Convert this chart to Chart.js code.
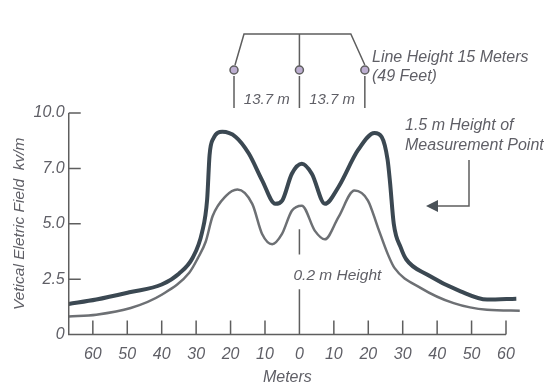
<!DOCTYPE html>
<html>
<head>
<meta charset="utf-8">
<script src="https://cdn.jsdelivr.net/npm/chart.js@4/dist/chart.umd.min.js"></script>
<style>
  html, body { margin: 0; padding: 0; background: #fff; }
</style>
</head>
<body>
<canvas id="field-chart" width="544" height="387"></canvas>
<script>
// distance from centre phase (m) -> vertical electric field (kV/m)
var highX = [-67, -59, -49, -40, -35, -31, -28.3, -26.8, -26.1, -25, -22.4, -18.5, -14.7, -10.8, -7, -5, -2.2, 0.7, 3.6, 7.4, 11.3, 17, 21.8, 23.9, 25.6, 26.3, 27.4, 29.5, 31, 37.2, 46.8, 54.5, 63];
var highY = [1.38, 1.58, 1.92, 2.26, 2.75, 3.47, 4.6, 6.1, 8.1, 8.85, 9.15, 8.92, 8.17, 6.95, 5.9, 6.05, 7.26, 7.71, 7.26, 5.9, 6.65, 8.32, 9.1, 8.92, 7.9, 6.9, 5.0, 3.9, 3.4, 2.7, 1.95, 1.58, 1.62];
var lowX = [-67, -59, -49, -40, -32, -29.5, -27.2, -25.2, -21.4, -18, -13.7, -10.8, -7.9, -5.1, -2.2, 0.7, 4.5, 7.4, 11.3, 16, 19.9, 22.8, 25.7, 27.6, 35.3, 44.8, 54.5, 64];
var lowY = [0.82, 0.9, 1.2, 1.8, 2.79, 3.45, 4.2, 5.35, 6.25, 6.55, 5.9, 4.53, 4.08, 4.53, 5.59, 5.82, 4.68, 4.3, 5.29, 6.5, 6.05, 4.83, 3.62, 3.01, 2.1, 1.42, 1.12, 1.08];
var xTicks = [-60, -50, -40, -30, -20, -10, 0, 10, 20, 30, 40, 50, 60];
var xTickLabels = ['60', '50', '40', '30', '20', '10', '0', '10', '20', '30', '40', '50', '60'];
var yTicks = [0, 2.5, 5, 7.5, 10];
var yTickLabels = ['0', '2.5', '5.0', '7.0', '10.0'];
var conductorX = [-19, 0, 19];

var textColor = '#5f5f66';
var lineColor = '#5e5e5e';
var fontName = "'Liberation Sans', Arial, sans-serif";

function toPoints(xs, ys) {
  var pts = [];
  for (var i = 0; i < xs.length; i++) pts.push({ x: xs[i], y: ys[i] });
  return pts;
}

var markings = {
  id: 'markings',
  afterDraw: function(chart) {
    var ctx = chart.ctx, sx = chart.scales.x, sy = chart.scales.y, area = chart.chartArea;
    ctx.save();
    ctx.strokeStyle = lineColor;
    ctx.lineWidth = 1.5;
    ctx.beginPath();
    // axis lines
    ctx.moveTo(area.left, area.top);
    ctx.lineTo(area.left, area.bottom);
    ctx.lineTo(area.right, area.bottom);
    // tick marks point inward
    xTicks.forEach(function(v) {
      if (v === 0) return;
      var px = sx.getPixelForValue(v);
      ctx.moveTo(px, area.bottom);
      ctx.lineTo(px, area.bottom - 14);
    });
    yTicks.forEach(function(v) {
      if (v === 0) return;
      var py = sy.getPixelForValue(v);
      ctx.moveTo(area.left, py);
      ctx.lineTo(area.left + 12, py);
    });
    // centre line, broken by label
    var cx = sx.getPixelForValue(0);
    ctx.moveTo(cx, area.bottom);
    ctx.lineTo(cx, sy.getPixelForValue(2.05));
    ctx.moveTo(cx, sy.getPixelForValue(3.62));
    ctx.lineTo(cx, sy.getPixelForValue(4.75));
    ctx.stroke();

    ctx.fillStyle = textColor;
    ctx.font = 'italic 15.5px ' + fontName;
    ctx.textBaseline = 'middle';
    ctx.textAlign = 'center';
    ctx.fillText('0.2 m Height', cx + 38, sy.getPixelForValue(2.64));

    // tower / conductors sketch
    var c0 = sx.getPixelForValue(conductorX[0]);
    var c1 = sx.getPixelForValue(conductorX[1]);
    var c2 = sx.getPixelForValue(conductorX[2]);
    var barY = 34, condY = 70;
    ctx.beginPath();
    ctx.moveTo(c0 + 1, condY - 5);
    ctx.lineTo(c0 + 10, barY);
    ctx.lineTo(c2 - 14, barY);
    ctx.lineTo(c2, condY - 5);
    ctx.moveTo(c1, barY);
    ctx.lineTo(c1, condY - 4);
    [c0, c1, c2].forEach(function(c) {
      ctx.moveTo(c, condY + 6);
      ctx.lineTo(c, condY + 38);
    });
    ctx.stroke();
    [c0, c1, c2].forEach(function(c) {
      ctx.beginPath();
      ctx.arc(c, condY, 4, 0, Math.PI * 2);
      ctx.fillStyle = '#bcaed0';
      ctx.fill();
      ctx.stroke();
    });
    ctx.fillStyle = textColor;
    ctx.font = 'italic 15px ' + fontName;
    ctx.fillText('13.7 m', (c0 + c1) / 2, 100);
    ctx.fillText('13.7 m', (c1 + c2) / 2, 100);
    ctx.textAlign = 'left';
    ctx.font = 'italic 16px ' + fontName;
    ctx.fillText('Line Height 15 Meters', 372, 58);
    ctx.fillText('(49 Feet)', 372, 77);
    ctx.fillText('1.5 m Height of', 405, 126);
    ctx.fillText('Measurement Point', 405, 146);

    // arrow to the upper curve
    ctx.beginPath();
    ctx.moveTo(469, 160);
    ctx.lineTo(469, 206);
    ctx.lineTo(436, 206);
    ctx.stroke();
    ctx.beginPath();
    ctx.moveTo(426, 206);
    ctx.lineTo(438, 200);
    ctx.lineTo(438, 212);
    ctx.closePath();
    ctx.fillStyle = '#4a5258';
    ctx.fill();
    ctx.restore();
  }
};

new Chart(document.getElementById('field-chart'), {
  type: 'line',
  data: {
    datasets: [
      {
        label: '1.5 m Height',
        data: toPoints(highX, highY),
        borderColor: '#3b4852',
        borderWidth: 4,
        pointRadius: 0,
        cubicInterpolationMode: 'monotone',
        clip: false
      },
      {
        label: '0.2 m Height',
        data: toPoints(lowX, lowY),
        borderColor: '#6d7074',
        borderWidth: 2.5,
        pointRadius: 0,
        cubicInterpolationMode: 'monotone',
        clip: false
      }
    ]
  },
  options: {
    responsive: false,
    animation: false,
    layout: { padding: { left: 10, right: 38, top: 113, bottom: 0 } },
    plugins: {
      legend: { display: false },
      tooltip: { enabled: false }
    },
    scales: {
      x: {
        type: 'linear',
        min: -67,
        max: 60,
        grid: { display: false, drawTicks: false, tickLength: 0 },
        border: { display: false },
        afterBuildTicks: function(scale) {
          scale.ticks = xTicks.map(function(v) { return { value: v }; });
        },
        ticks: {
          color: textColor,
          font: { family: fontName, size: 16, style: 'italic' },
          padding: 10,
          maxRotation: 0,
          autoSkip: false,
          callback: function(v) {
            var i = xTicks.indexOf(v);
            return i < 0 ? '' : xTickLabels[i];
          }
        },
        title: {
          display: true,
          text: 'Meters',
          color: textColor,
          font: { family: fontName, size: 16, style: 'italic' },
          padding: { top: -6, bottom: 0 }
        }
      },
      y: {
        min: 0,
        max: 10,
        grid: { display: false, drawTicks: false, tickLength: 0 },
        border: { display: false },
        afterBuildTicks: function(scale) {
          scale.ticks = yTicks.map(function(v) { return { value: v }; });
        },
        ticks: {
          color: textColor,
          font: { family: fontName, size: 16, style: 'italic' },
          padding: 4,
          callback: function(v) {
            var i = yTicks.indexOf(v);
            return i < 0 ? '' : yTickLabels[i];
          }
        },
        title: {
          display: true,
          text: 'Vetical Eletric Field  kv/m',
          color: textColor,
          font: { family: fontName, size: 15.5, style: 'italic' },
          padding: { top: 0, bottom: 1 }
        }
      }
    }
  },
  plugins: [markings]
});
</script>
</body>
</html>
